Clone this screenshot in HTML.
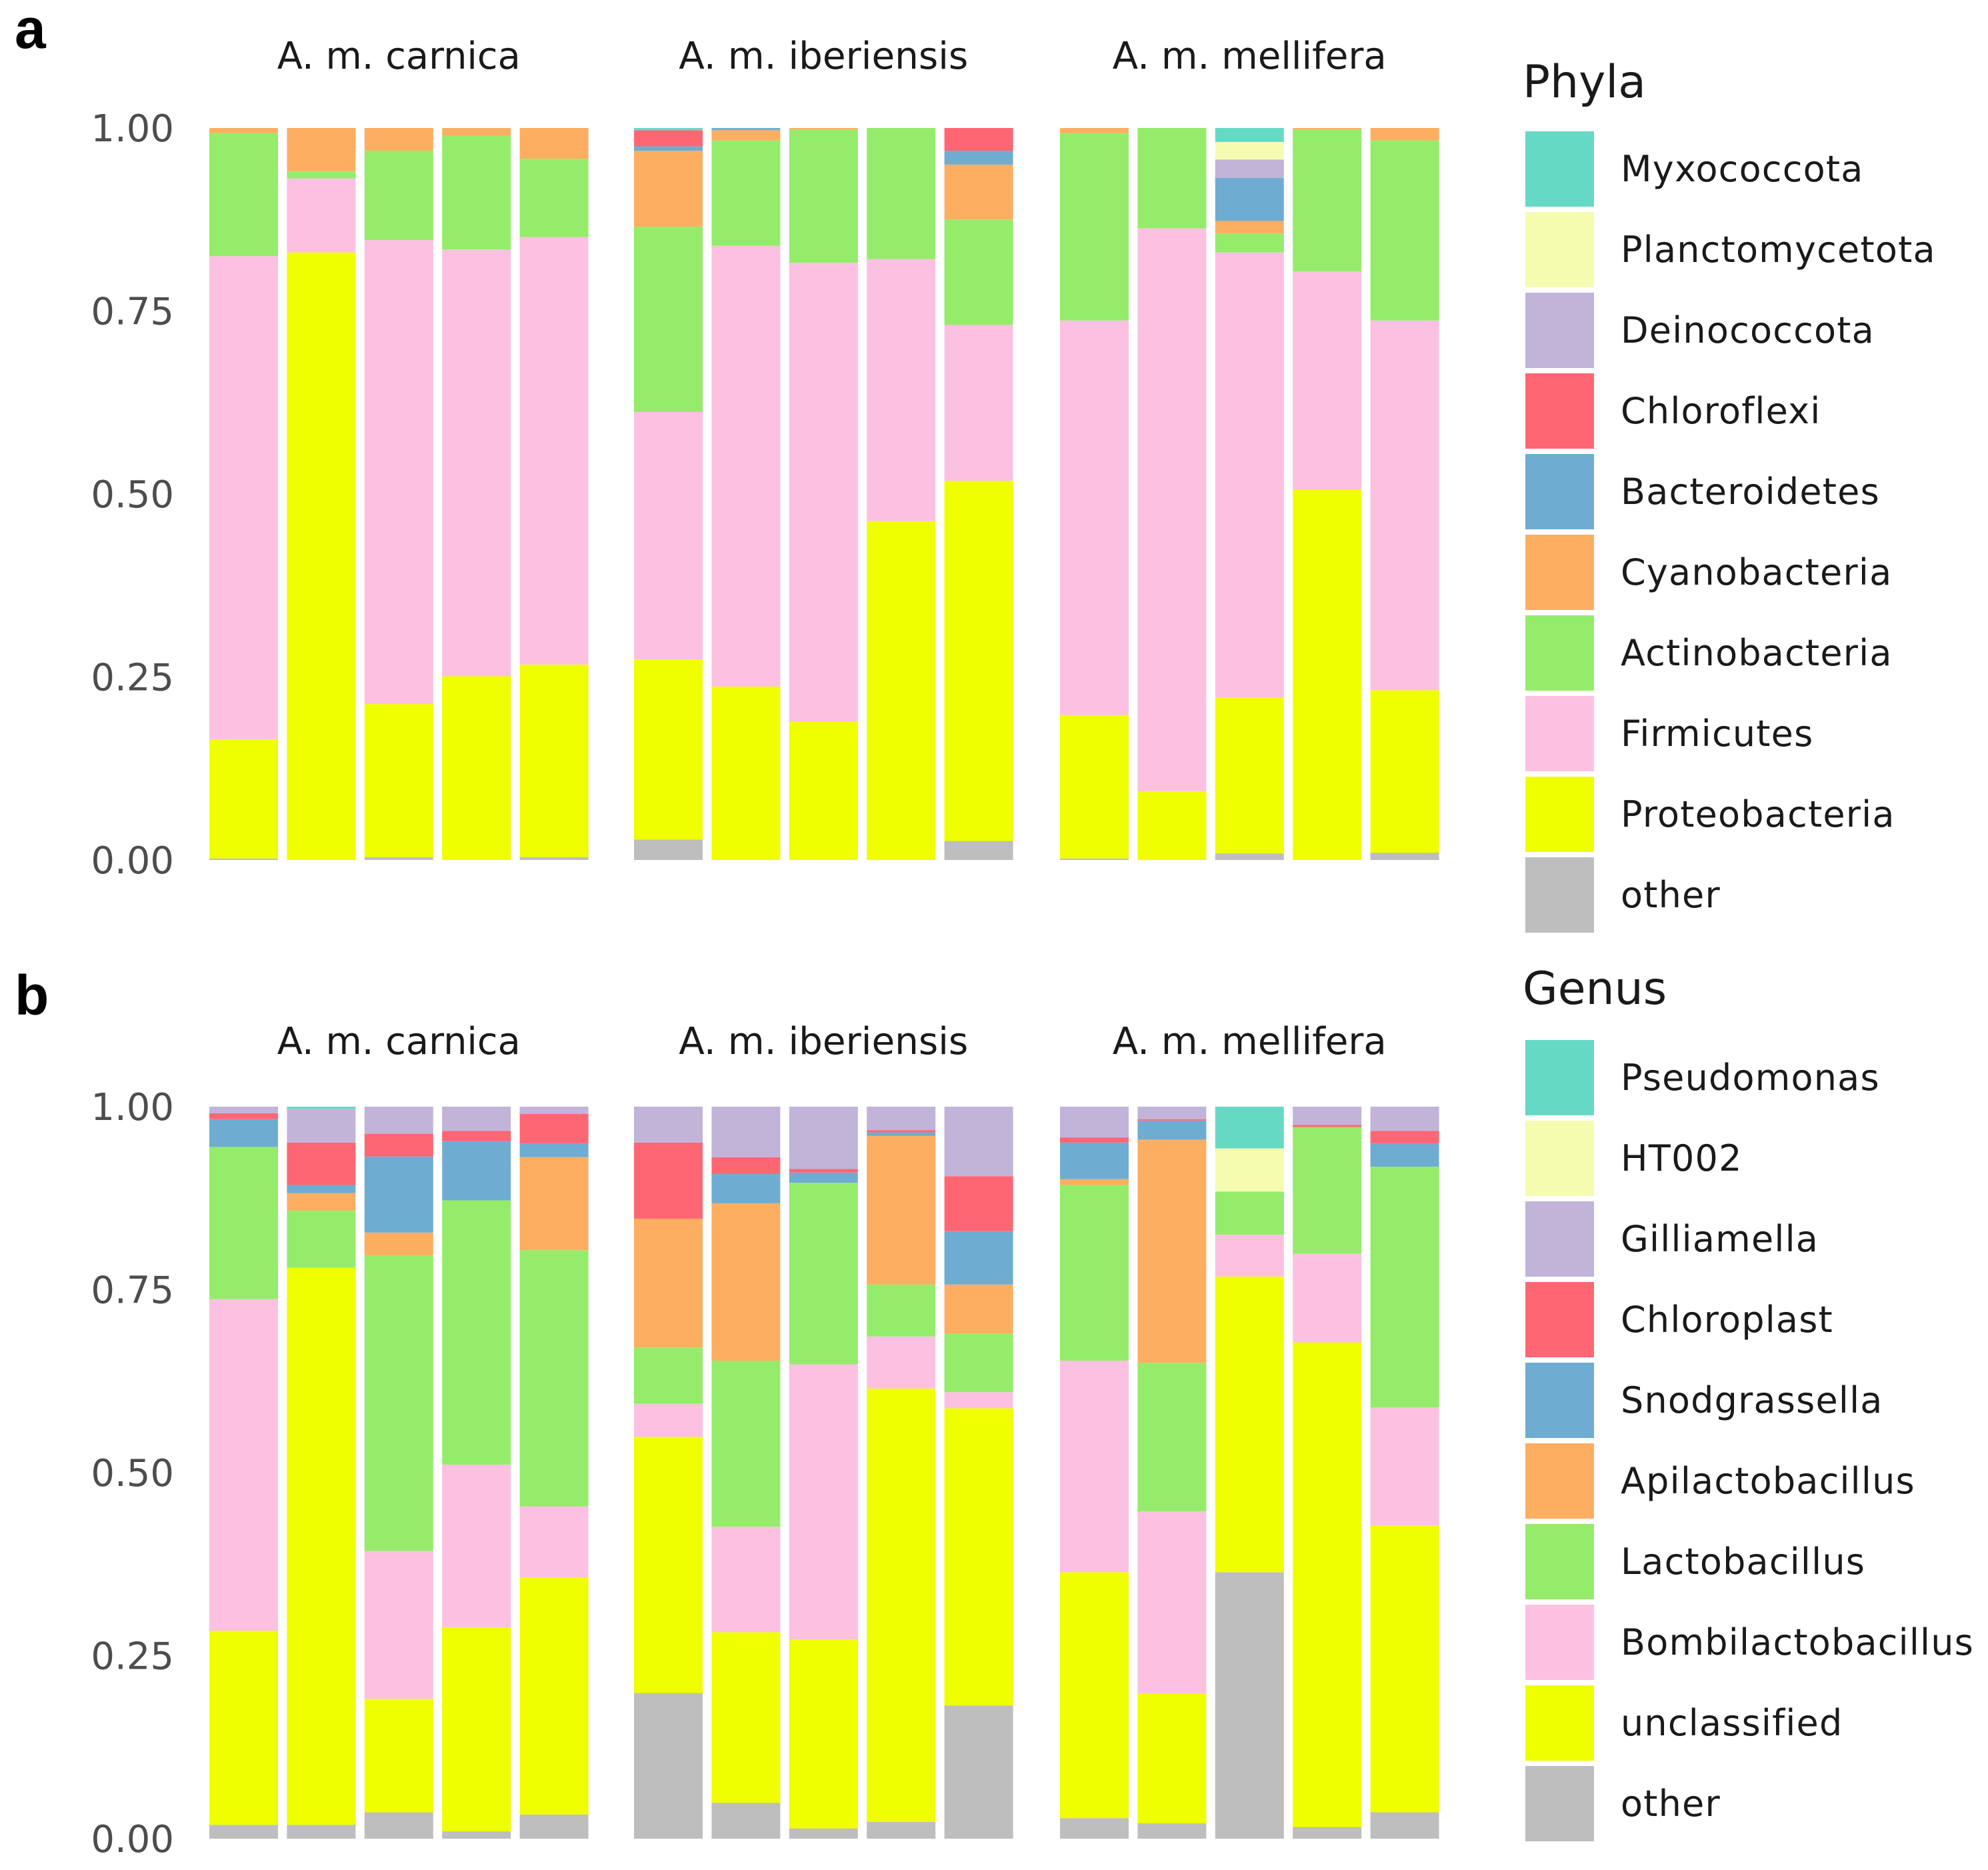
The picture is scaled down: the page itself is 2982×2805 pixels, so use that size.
<!DOCTYPE html>
<html><head><meta charset="utf-8">
<style>
html,body{margin:0;padding:0;background:#fff;}
svg text{font-family:"DejaVu Sans","Liberation Sans",sans-serif;}
</style></head>
<body>
<svg id="chart" width="2982" height="2800" viewBox="0 0 2982 2800" xmlns="http://www.w3.org/2000/svg">
<rect width="2982" height="2800" fill="#fff"/>
<text x="22" y="72" font-size="84" font-weight="bold" fill="#000" style="font-family:'Liberation Sans',sans-serif">a</text>
<text x="22" y="1522" font-size="84" font-weight="bold" fill="#000" style="font-family:'Liberation Sans',sans-serif">b</text>
<g id="panels"></g>
<g id="legends"></g>
</svg>
<script>
const groups = ["A. m. carnica", "A. m. iberiensis", "A. m. mellifera"];
const yTicks = [0, 0.25, 0.5, 0.75, 1];
const yTickLabels = ["0.00", "0.25", "0.50", "0.75", "1.00"];

const phylaNames = ["other","Proteobacteria","Firmicutes","Actinobacteria","Cyanobacteria","Bacteroidetes","Chloroflexi","Deinococcota","Planctomycetota","Myxococcota"];
const phylaColors = ["#bebebe","#f0ff00","#fcc0e1","#95ec6b","#fdae61","#6eadd1","#ff6673","#c2b3d9","#f5fcb0","#66d9c4"];
// cumulative upper bound of each phylum per sample (15 samples, 5 per group)
const phOther   = [.002,0,.004,0,.004, .028,0,0,0,.026, .002,0,.009,0,.01];
const phProteo  = [.165,.83,.213,.251,.267, .274,.237,.189,.463,.518, .198,.094,.222,.506,.232];
const phFirm    = [.825,.931,.847,.834,.851, .612,.839,.816,.821,.731, .737,.863,.83,.804,.737];
const phActino  = [.993,.941,.969,.99,.958, .865,.983,.998,1,.875, .993,1,.856,.998,.983];
const phCyano   = [1,1,1,1,1, .969,.997,1,1,.95, 1,1,.873,1,1];
const phBact    = [1,1,1,1,1, .975,1,1,1,.969, 1,1,.932,1,1];
const phChloro  = [1,1,1,1,1, .997,1,1,1,1, 1,1,.932,1,1];
const phDeino   = [1,1,1,1,1, .997,1,1,1,1, 1,1,.957,1,1];
const phPlancto = [1,1,1,1,1, .997,1,1,1,1, 1,1,.981,1,1];
const phMyxo    = [1,1,1,1,1, 1,1,1,1,1, 1,1,1,1,1];

const genusNames = ["other","unclassified","Bombilactobacillus","Lactobacillus","Apilactobacillus","Snodgrassella","Chloroplast","Gilliamella","HT002","Pseudomonas"];
const genusColors = ["#bebebe","#f0ff00","#fcc0e1","#95ec6b","#fdae61","#6eadd1","#ff6673","#c2b3d9","#f5fcb0","#66d9c4"];
const gOther  = [.019,.019,.036,.01,.033, .199,.049,.014,.023,.182, .028,.021,.364,.016,.036];
const gUncl   = [.284,.78,.191,.289,.357, .549,.282,.272,.615,.588, .364,.198,.768,.678,.428];
const gBomb   = [.737,.78,.393,.511,.454, .594,.426,.648,.686,.61, .653,.447,.825,.799,.589];
const gLacto  = [.945,.858,.797,.872,.804, .671,.653,.896,.757,.69, .893,.65,.884,.972,.918];
const gApil   = [.945,.882,.828,.872,.931, .847,.868,.896,.96,.757, .901,.955,.884,.972,.918];
const gSnod   = [.983,.893,.932,.953,.95, .847,.908,.91,.965,.83, .951,.981,.884,.972,.95];
const gChloro = [.991,.951,.963,.967,.99, .951,.931,.915,.968,.905, .958,.983,.884,.975,.967];
const gGill   = [1,.997,1,1,1, 1,1,1,1,1, 1,1,.884,1,1];
const gHT002  = [1,.997,1,1,1, 1,1,1,1,1, 1,1,.943,1,1];
const gPseudo = [1,1,1,1,1, 1,1,1,1,1, 1,1,1,1,1];

const NS = "http://www.w3.org/2000/svg";
function mk(tag, attrs, parent){ const e=document.createElementNS(NS,tag); for(const k in attrs) e.setAttribute(k,attrs[k]); parent.appendChild(e); return e; }

const groupX = [314, 951, 1590];
const stripW = [365, 434, 411];
const barStep = 116.4, barW = 103;
function xBar(i){ return groupX[Math.floor(i/5)] + (i%5)*barStep; }

function drawPanel(name, y0, y1, stripY, series, colors, names){
  const root = document.getElementById("panels");
  const g = mk("g", {}, root);
  
  
  const yS = v => y0 + (y1 - y0) * v;
  yTicks.forEach((t, k) => {
    const tx = mk("text", {x:261, y:yS(t)+20, "text-anchor":"end", "font-size":56, fill:"#4d4d4d"}, g);
    
    
    tx.textContent = yTickLabels[k];
  });
  groups.forEach((gn, gi) => {
    const cx = groupX[gi] + (4*barStep + barW)/2;
    const st = mk("text", {x:cx, y:stripY, "text-anchor":"middle", "font-size":56, fill:"#1a1a1a", textLength:stripW[gi], lengthAdjust:"spacingAndGlyphs"}, g);
    
    
    st.textContent = gn;
  });
  for (let i = 0; i < 15; i++) {
    let prev = 0;
    series.forEach((arr, s) => {
      const top = arr[i];
      if (top > prev + 1e-6) {
        const r = mk("rect", {x:xBar(i), y:yS(top), width:barW, height:yS(prev)-yS(top), fill:colors[s]}, g);
        
        
      }
      prev = Math.max(prev, top);
    });
  }
}

drawPanel("phyla-panel", 1290, 192, 103,
  [phOther,phProteo,phFirm,phActino,phCyano,phBact,phChloro,phDeino,phPlancto,phMyxo], phylaColors, phylaNames);
drawPanel("genus-panel", 2758, 1660, 1581,
  [gOther,gUncl,gBomb,gLacto,gApil,gSnod,gChloro,gGill,gHT002,gPseudo], genusColors, genusNames);

function drawLegend(name, title, titleY, keyTop, names, colors){
  const root = document.getElementById("legends");
  const g = mk("g", {}, root);
  
  
  const t = mk("text", {x:2284, y:titleY, "font-size":68, fill:"#1a1a1a"}, g);
  
  
  t.textContent = title;
  const order = names.slice().reverse();
  const cols = colors.slice().reverse();
  order.forEach((n, k) => {
    const y = keyTop + k*121;
    const r = mk("rect", {x:2288, y:y, width:103, height:113, fill:cols[k]}, g);
    
    
    const tx = mk("text", {x:2431, y:y+56+19, "font-size":54, "letter-spacing":1.2, fill:"#1a1a1a"}, g);
    
    
    tx.textContent = n;
  });
}
drawLegend("phyla-legend", "Phyla", 146, 197, phylaNames, phylaColors);
drawLegend("genus-legend", "Genus", 1506, 1560, genusNames, genusColors);
</script>
</body></html>
